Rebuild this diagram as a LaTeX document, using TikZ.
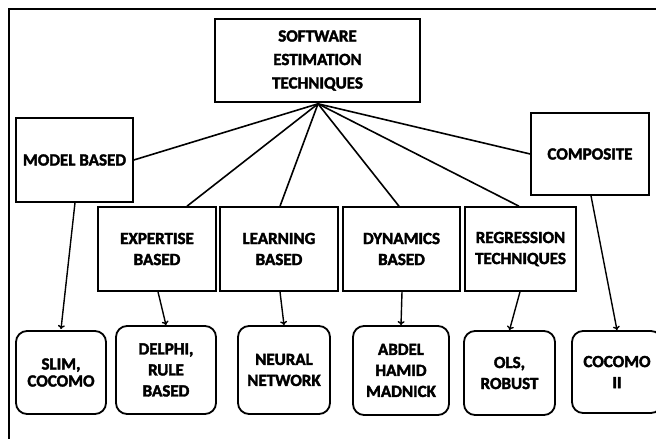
\documentclass[tikz,border=0pt]{standalone}
\usepackage{fontspec}
\setmainfont{Carlito}[BoldFeatures={FakeBold=2.2}]
\usetikzlibrary{shadows,calc,arrows.meta}
\begin{document}
\begin{tikzpicture}[x=1pt,y=-1pt,
  every node/.style={font=\bfseries\fontsize{17}{21}\selectfont, align=center, inner sep=0pt},
  catbox/.style={draw, line width=1.6pt, fill=white,
    drop shadow={shadow xshift=1pt, shadow yshift=-1pt, fill=black, opacity=1}},
  leafbox/.style={draw, line width=1.8pt, rounded corners=11pt, fill=white},
  link/.style={line width=1.6pt},
  arrow/.style={line width=1.4pt, -{To[length=4pt,width=7pt]}}]
\useasboundingbox (0,0) rectangle (656,439);
\fill[white] (0,0) rectangle (656,439);
% outer frame (top and left edges)
\draw[line width=2.5pt] (656,9) -- (9,9) -- (9,445);

% root
\node[catbox, minimum width=205pt, minimum height=83pt,
      font=\bfseries\fontsize{17}{23.5}\selectfont] (root) at (317.5,60.5)
      {SOFTWARE\\ESTIMATION\\TECHNIQUES};

% categories
\node[catbox, minimum width=117pt, minimum height=84pt] (model) at (74.5,160) {MODEL BASED};
\node[catbox, minimum width=118pt, minimum height=82pt] (comp) at (590,154) {COMPOSITE};
\node[catbox, minimum width=118pt, minimum height=84pt] (expert) at (157,249) {EXPERTISE\\BASED};
\node[catbox, minimum width=118pt, minimum height=84pt] (learn) at (279,249) {LEARNING\\BASED};
\node[catbox, minimum width=117pt, minimum height=84pt] (dyn) at (401.5,249) {DYNAMICS\\BASED};
\node[catbox, minimum width=111pt, minimum height=84pt] (regr) at (520.5,249) {REGRESSION\\TECHNIQUES};

% methods
\node[leafbox, minimum width=90pt, minimum height=83pt,
      font=\bfseries\fontsize{17}{17}\selectfont] (slim) at (61,372.5) {SLIM,\\COCOMO};
\node[leafbox, minimum width=100pt, minimum height=88pt] (delphi) at (166,370) {DELPHI,\\RULE\\BASED};
\node[leafbox, minimum width=92pt, minimum height=88pt] (neural) at (284,370) {NEURAL\\NETWORK};
\node[leafbox, minimum width=96pt, minimum height=89pt] (abdel) at (401,370.5) {ABDEL\\HAMID\\MADNICK};
\node[leafbox, minimum width=91pt, minimum height=84pt] (ols) at (509.5,373) {OLS,\\ROBUST};
\node[leafbox, minimum width=90pt, minimum height=82pt] (cocomo) at (617,372) {COCOMO\\II};

% links from the root
\coordinate (apex) at ($(root.south)+(0.5,1)$);
\draw[link] (apex) -- (model.east);
\draw[link] (apex) -- (comp.west);
\draw[link] (apex) -- ($(expert.north)+(30,0)$);
\draw[link] (apex) -- ($(learn.north)+(1,0)$);
\draw[link] (apex) -- ($(dyn.north)+(-2.5,0)$);
\draw[link] (apex) -- ($(regr.north)+(-1.5,0)$);

% arrows to the methods
\draw[arrow] ($(model.south)+(0.5,0)$) -- ($(slim.north)+(0,-1)$);
\draw[arrow] ($(expert.south)+(1,0)$) -- (delphi.north);
\draw[arrow] ($(learn.south)+(1,0)$) -- (neural.north);
\draw[arrow] ($(dyn.south)+(0.5,0)$) -- (abdel.north);
\draw[arrow] ($(regr.south)+(-0.5,0)$) -- (ols.north);
\draw[arrow] ($(comp.south)+(1,0)$) -- (cocomo.north);
\end{tikzpicture}
\end{document}
